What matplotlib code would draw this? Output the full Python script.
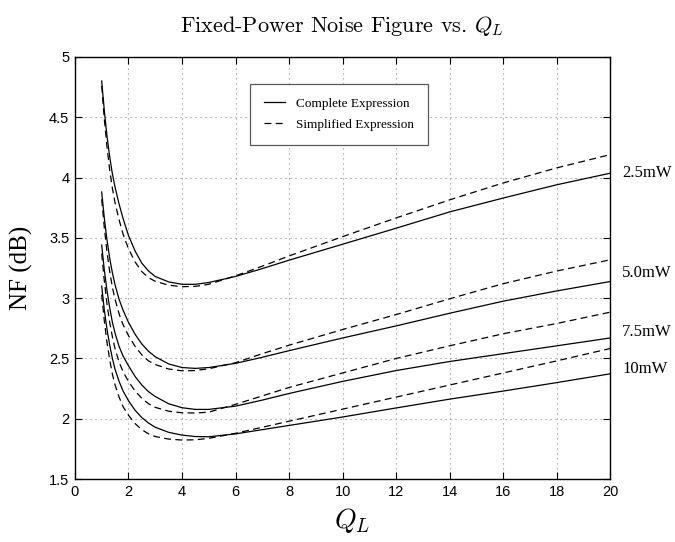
# Fixed-Power Noise Figure vs. Q_L  -- curvas completas e simplificadas
import numpy as np
import matplotlib
matplotlib.use("Agg")
import matplotlib.pyplot as plt

plt.rcParams['mathtext.fontset'] = 'cm'

# Dados
q_l = [1, 1.1, 1.2, 1.3, 1.4, 1.5, 1.65, 1.8, 2, 2.25, 2.5, 2.75, 3, 3.5, 4, 4.5, 5,
       6, 7, 8, 10, 12, 14, 16, 18, 20]

potencias = ["2.5mW", "5.0mW", "7.5mW", "10mW"]

nf_completa_25 = [4.80, 4.55, 4.34, 4.17, 4.03, 3.92, 3.78, 3.66, 3.52, 3.39, 3.29, 3.225, 3.18, 3.135, 3.115, 3.115, 3.13,
                  3.18, 3.245, 3.315, 3.447, 3.58, 3.715, 3.83, 3.94, 4.036]
nf_simpl_25 = [4.76, 4.48, 4.25, 4.06, 3.91, 3.79, 3.65, 3.53, 3.41, 3.30, 3.22, 3.17, 3.14, 3.108, 3.095, 3.098, 3.115,
               3.185, 3.265, 3.35, 3.51, 3.665, 3.815, 3.955, 4.08, 4.19]

nf_completa_50 = [3.88, 3.66, 3.48, 3.33, 3.21, 3.11, 2.99, 2.90, 2.80, 2.70, 2.62, 2.56, 2.515, 2.455, 2.425, 2.418, 2.425,
                  2.46, 2.51, 2.565, 2.67, 2.77, 2.875, 2.975, 3.06, 3.138]
nf_simpl_50 = [3.82, 3.58, 3.38, 3.22, 3.09, 2.99, 2.87, 2.78, 2.69, 2.60, 2.53, 2.48, 2.45, 2.413, 2.398, 2.40, 2.415,
               2.465, 2.54, 2.61, 2.74, 2.864, 2.995, 3.12, 3.225, 3.318]

nf_completa_75 = [3.44, 3.23, 3.06, 2.92, 2.80, 2.71, 2.60, 2.52, 2.44, 2.35, 2.28, 2.225, 2.185, 2.125, 2.092, 2.078, 2.078,
                  2.105, 2.155, 2.21, 2.31, 2.40, 2.475, 2.54, 2.605, 2.67]
nf_simpl_75 = [3.37, 3.14, 2.95, 2.80, 2.68, 2.58, 2.47, 2.39, 2.31, 2.23, 2.17, 2.125, 2.095, 2.063, 2.05, 2.048, 2.055,
               2.12, 2.19, 2.26, 2.38, 2.50, 2.605, 2.705, 2.79, 2.884]

nf_completa_10 = [3.10, 2.90, 2.74, 2.61, 2.50, 2.41, 2.31, 2.23, 2.15, 2.07, 2.01, 1.965, 1.93, 1.888, 1.865, 1.853, 1.851,
                  1.875, 1.91, 1.945, 2.015, 2.09, 2.163, 2.23, 2.30, 2.373]
nf_simpl_10 = [3.03, 2.81, 2.63, 2.49, 2.37, 2.28, 2.18, 2.10, 2.03, 1.96, 1.91, 1.875, 1.853, 1.832, 1.824, 1.826, 1.838,
               1.88, 1.93, 1.98, 2.08, 2.18, 2.28, 2.38, 2.48, 2.583]

xticks = [0, 2, 4, 6, 8, 10, 12, 14, 16, 18, 20]
yticks = [1.5, 2, 2.5, 3, 3.5, 4, 4.5, 5]
yticklabels = ["1.5", "2", "2.5", "3", "3.5", "4", "4.5", "5"]

completas = [nf_completa_25, nf_completa_50, nf_completa_75, nf_completa_10]
simplificadas = [nf_simpl_25, nf_simpl_50, nf_simpl_75, nf_simpl_10]

# Figura
fig = plt.figure(figsize=(6.75, 5.42), dpi=100)
ax = fig.add_axes([0.111, 0.116, 0.793, 0.779])

for i in range(len(potencias)):
    ax.plot(q_l, completas[i], color='black', linewidth=0.9,
            label="Complete Expression" if i == 0 else None)
    ax.plot(q_l, simplificadas[i], color='black', linewidth=0.9,
            linestyle=(0, (5.5, 3.5)),
            label="Simplified Expression" if i == 0 else None)

ax.set_xlim(0, 20)
ax.set_ylim(1.5, 5)
ax.set_xticks(xticks)
ax.set_xticklabels([str(t) for t in xticks], fontfamily='Liberation Sans', fontsize=10.5)
ax.set_yticks(yticks)
ax.set_yticklabels(yticklabels, fontfamily='Liberation Sans', fontsize=10.5)
ax.tick_params(direction='in', top=True, right=True, length=5, width=0.8, pad=4)
ax.grid(True, linestyle=(0, (1, 3.5)), color='0.55', linewidth=0.8)
for s in ax.spines.values():
    s.set_linewidth(1.0)

# Rótulos de potência à direita
label_y = [4.04, 3.21, 2.72, 2.41]
for nome, y in zip(potencias, label_y):
    ax.text(20.45, y, nome, fontfamily='Liberation Serif', fontsize=12,
            va='center', ha='left', clip_on=False)

leg = ax.legend(loc='upper left', bbox_to_anchor=(0.327, 0.936),
                prop={'family': 'Liberation Serif', 'size': 9.5},
                fancybox=False, edgecolor='0.35', framealpha=1,
                handlelength=1.6, borderpad=1.05, labelspacing=0.65,
                handletextpad=0.85, borderaxespad=0)
leg.get_frame().set_linewidth(0.9)

ax.set_ylabel("NF (dB)", fontfamily='Liberation Serif', fontsize=18)
ax.yaxis.set_label_coords(-0.078, 0.5)
ax.set_xlabel(r"$Q_L$", fontsize=20)
ax.xaxis.set_label_coords(0.518, -0.063)
fig.text(0.507, 0.952, r"Fixed-Power Noise Figure vs. $Q_L$",
         fontfamily='cmr10', fontsize=16, ha='center', va='center')

fig.savefig("out.png", dpi=100)
